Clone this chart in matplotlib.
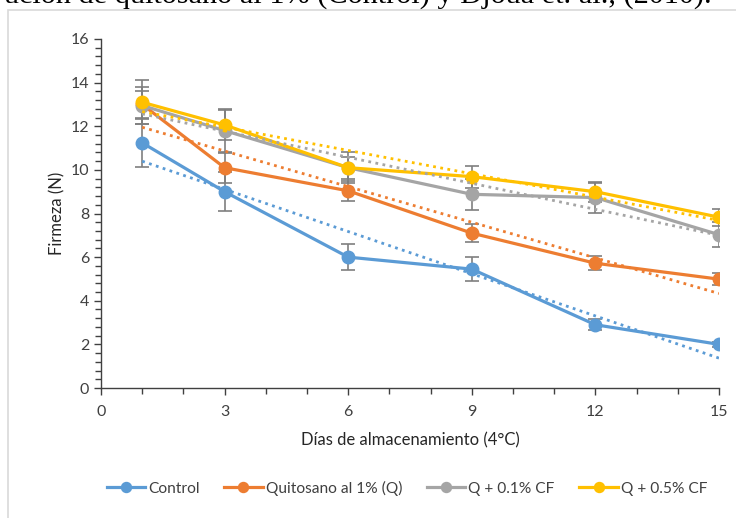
import numpy as np
import matplotlib
matplotlib.use("Agg")
import matplotlib.pyplot as plt
from matplotlib.patches import Rectangle
from matplotlib.ticker import MultipleLocator

days = [1, 3, 6, 9, 12, 15]
series_names = ["Control", "Quitosano al 1% (Q)", "Q + 0.1% CF", "Q + 0.5% CF"]
control = [11.24, 9.0, 6.0, 5.45, 2.9, 2.0]
quitosano = [13.0, 10.1, 9.04, 7.1, 5.72, 4.99]
q01 = [12.95, 11.8, 10.1, 8.88, 8.73, 7.03]
q05 = [13.1, 12.06, 10.1, 9.69, 9.0, 7.83]
err_control = [1.1, 0.9, 0.59, 0.54, 0.26, 0.1]
err_quitosano = [0.6, 0.68, 0.46, 0.4, 0.33, 0.27]
err_q01 = [0.85, 1.0, 0.7, 0.7, 0.69, 0.58]
err_q05 = [1.0, 0.7, 0.5, 0.5, 0.45, 0.39]
colors = ["#5B9BD5", "#ED7D31", "#A5A5A5", "#FFC000"]
x_ticks = [0, 3, 6, 9, 12, 15]
y_ticks = [0, 2, 4, 6, 8, 10, 12, 14, 16]
caption = "ución de quitosano al 1% (Control) y Djoua et. al., (2010)."

plt.rcParams['font.family'] = ['Lato', 'DejaVu Sans']

W, H = 736, 518
fig = plt.figure(figsize=(W / 100, H / 100), dpi=100)
ax = fig.add_axes([101 / W, 1 - 388 / H, (719 - 101) / W, (388 - 39) / H])

# outer frame
fig.patches.append(Rectangle((8 / W, -0.1), 1.2, 1 - 10 / H + 0.1, transform=fig.transFigure,
                             fill=False, edgecolor="#D9D9D9", linewidth=1.2))
fig.text(712 / W, 1 - 3.0 / H, caption, ha='right', va='baseline',
         family='Liberation Serif', fontsize=21.8, color='black')

all_y = [control, quitosano, q01, q05]
all_err = [err_control, err_quitosano, err_q01, err_q05]
x = np.array(days, dtype=float)

for ys, es, c in zip(all_y, all_err, colors):
    ax.errorbar(x, ys, yerr=es, fmt='none', ecolor='#7F7F7F', elinewidth=1.2,
                capsize=5, capthick=1.2, zorder=2)

handles = []
for name, ys, c in zip(series_names, all_y, colors):
    h, = ax.plot(x, ys, color=c, linewidth=2.3, marker='o', markersize=9,
                 label=name, zorder=3)
    handles.append(h)

for ys, c in zip(all_y, colors):
    m, b = np.polyfit(x, ys, 1)
    xx = np.array([x[0], x[-1]])
    ax.plot(xx, m * xx + b, color=c, linewidth=2.0, linestyle=(0, (1, 1.6)), zorder=4)

ax.set_xlim(0, 15)
ax.set_ylim(0, 16)
ax.set_xticks(x_ticks)
ax.set_yticks(y_ticks)
ax.xaxis.set_minor_locator(MultipleLocator(1))
ax.yaxis.set_minor_locator(MultipleLocator(0.4))
for s in ['top', 'right']:
    ax.spines[s].set_visible(False)
for s in ['left', 'bottom']:
    ax.spines[s].set_color('#404040')
    ax.spines[s].set_linewidth(1.0)
ax.tick_params(axis='both', which='major', direction='out', length=5, width=1,
               color='#404040', labelsize=11.5, labelcolor='#404040')
ax.tick_params(axis='both', which='minor', direction='out', length=4, width=1, color='#404040')
ax.tick_params(axis='x', which='major', pad=7)

ax.set_xlabel("Días de almacenamiento (4°C)", fontsize=12, color='#262626', labelpad=10)
ax.set_ylabel("Firmeza (N)", fontsize=12, color='#262626', labelpad=4)

fig.legend(handles=handles, loc='center', bbox_to_anchor=(407 / W, 1 - 488 / H), ncol=4,
           frameon=False, fontsize=11.2, handlelength=2.45, columnspacing=1.6,
           handletextpad=0.2, markerscale=0.8, labelcolor='#404040')

fig.savefig("out.png", dpi=100)
